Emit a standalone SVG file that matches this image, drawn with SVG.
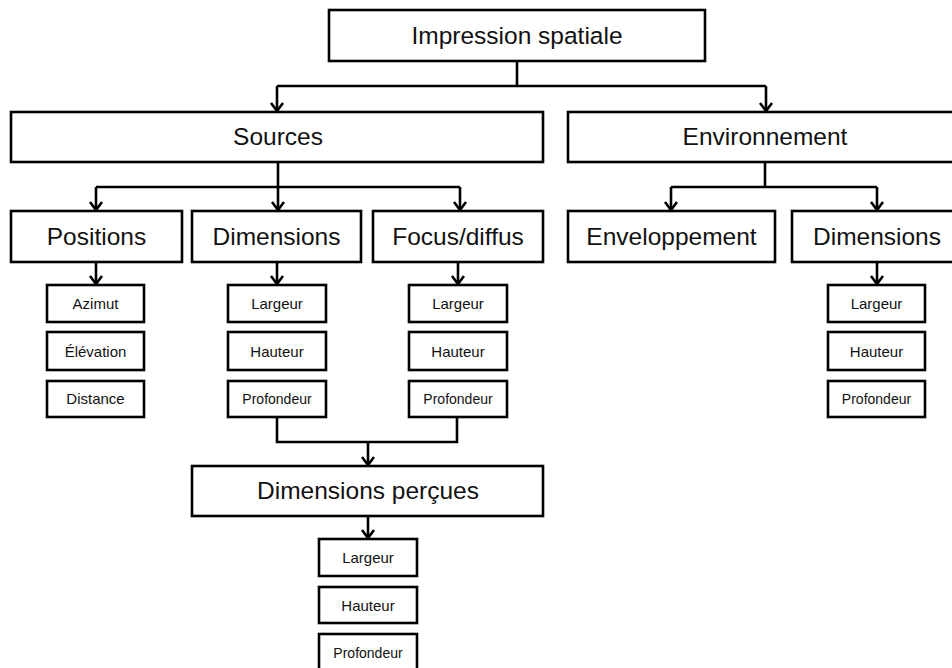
<svg xmlns="http://www.w3.org/2000/svg" width="952" height="668" viewBox="0 0 952 668">
<style>
  .box { fill: #ffffff; stroke: #000000; stroke-width: 2.6; }
  .big { font-family: "Liberation Sans", Arial, sans-serif; font-size: 24.5px; fill: #111111; text-anchor: middle; }
  .sm { font-family: "Liberation Sans", Arial, sans-serif; font-size: 15px; fill: #111111; text-anchor: middle; }
  .xs { font-family: "Liberation Sans", Arial, sans-serif; font-size: 14px; fill: #111111; text-anchor: middle; }
  .ln { fill: none; stroke: #000000; stroke-width: 2.6; }
  .ar { fill: none; stroke: #000000; stroke-width: 2.6; marker-end: url(#arr); }
</style>
<defs>
  <marker id="arr" markerUnits="userSpaceOnUse" viewBox="-10 -8 12 16" refX="0" refY="0" markerWidth="12" markerHeight="16" orient="auto">
    <path d="M-8,-6 L0,0 L-8,6" fill="none" stroke="#000000" stroke-width="2.6" stroke-linejoin="miter"/>
  </marker>
</defs>
<rect width="952" height="668" fill="#ffffff"/>

<g id="connectors">
  <path class="ln" d="M517,61 V86"/>
  <path class="ln" d="M277,86 H766"/>
  <path class="ar" d="M277,86 V111"/>
  <path class="ar" d="M766,86 V111"/>

  <path class="ln" d="M278,162 V187"/>
  <path class="ln" d="M96,187 H460"/>
  <path class="ar" d="M96,187 V210"/>
  <path class="ar" d="M278,187 V210"/>
  <path class="ar" d="M460,187 V210"/>

  <path class="ln" d="M765,162 V187"/>
  <path class="ln" d="M671,187 H877"/>
  <path class="ar" d="M671,187 V210"/>
  <path class="ar" d="M877,187 V210"/>

  <path class="ar" d="M96,262 V284"/>
  <path class="ar" d="M277,262 V284"/>
  <path class="ar" d="M458,262 V284"/>
  <path class="ar" d="M877,262 V284"/>

  <path class="ln" d="M277,417 V442 H457 V417"/>
  <path class="ar" d="M368,442 V465"/>
  <path class="ar" d="M368,516 V538"/>
</g>

<g id="impression">
  <rect class="box" x="329" y="10" width="376" height="51"/>
  <text class="big" x="517" y="44">Impression spatiale</text>
</g>
<g id="sources">
  <rect class="box" x="11" y="112" width="532" height="50"/>
  <text class="big" x="278" y="145">Sources</text>
</g>
<g id="environnement">
  <rect class="box" x="568" y="112" width="390" height="50"/>
  <text class="big" x="765" y="145">Environnement</text>
</g>

<g id="positions">
  <rect class="box" x="11" y="211" width="171" height="51"/>
  <text class="big" x="96.5" y="245">Positions</text>
</g>
<g id="dimensions-src">
  <rect class="box" x="192" y="211" width="169" height="51"/>
  <text class="big" x="276.5" y="245">Dimensions</text>
</g>
<g id="focus">
  <rect class="box" x="373" y="211" width="170" height="51"/>
  <text class="big" x="458" y="245">Focus/diffus</text>
</g>
<g id="enveloppement">
  <rect class="box" x="568" y="211" width="207" height="51"/>
  <text class="big" x="671.5" y="245">Enveloppement</text>
</g>
<g id="dimensions-env">
  <rect class="box" x="792" y="211" width="166" height="51"/>
  <text class="big" x="877" y="245">Dimensions</text>
</g>

<g id="azimut">
  <rect class="box" x="47" y="285" width="97" height="37"/>
  <text class="sm" x="95.5" y="309">Azimut</text>
</g>
<g id="elevation">
  <rect class="box" x="47" y="332" width="97" height="38"/>
  <text class="sm" x="95.5" y="357">Élévation</text>
</g>
<g id="distance">
  <rect class="box" x="47" y="381" width="97" height="36"/>
  <text class="sm" x="95.5" y="404">Distance</text>
</g>

<g id="dim-largeur">
  <rect class="box" x="228" y="285" width="98" height="37"/>
  <text class="sm" x="277" y="309">Largeur</text>
</g>
<g id="dim-hauteur">
  <rect class="box" x="228" y="332" width="98" height="38"/>
  <text class="sm" x="277" y="357">Hauteur</text>
</g>
<g id="dim-profondeur">
  <rect class="box" x="228" y="381" width="98" height="36"/>
  <text class="xs" x="277" y="404">Profondeur</text>
</g>

<g id="foc-largeur">
  <rect class="box" x="409" y="285" width="98" height="37"/>
  <text class="sm" x="458" y="309">Largeur</text>
</g>
<g id="foc-hauteur">
  <rect class="box" x="409" y="332" width="98" height="38"/>
  <text class="sm" x="458" y="357">Hauteur</text>
</g>
<g id="foc-profondeur">
  <rect class="box" x="409" y="381" width="98" height="36"/>
  <text class="xs" x="458" y="404">Profondeur</text>
</g>

<g id="env-largeur">
  <rect class="box" x="828" y="285" width="97" height="37"/>
  <text class="sm" x="876.5" y="309">Largeur</text>
</g>
<g id="env-hauteur">
  <rect class="box" x="828" y="332" width="97" height="38"/>
  <text class="sm" x="876.5" y="357">Hauteur</text>
</g>
<g id="env-profondeur">
  <rect class="box" x="828" y="381" width="97" height="36"/>
  <text class="xs" x="876.5" y="404">Profondeur</text>
</g>

<g id="dimensions-percues">
  <rect class="box" x="192" y="466" width="351" height="50"/>
  <text class="big" x="368" y="499">Dimensions perçues</text>
</g>
<g id="perc-largeur">
  <rect class="box" x="319" y="539" width="98" height="37"/>
  <text class="sm" x="368" y="563">Largeur</text>
</g>
<g id="perc-hauteur">
  <rect class="box" x="319" y="587" width="98" height="36"/>
  <text class="sm" x="368" y="611">Hauteur</text>
</g>
<g id="perc-profondeur">
  <rect class="box" x="319" y="634" width="98" height="37"/>
  <text class="xs" x="368" y="658">Profondeur</text>
</g>
</svg>
